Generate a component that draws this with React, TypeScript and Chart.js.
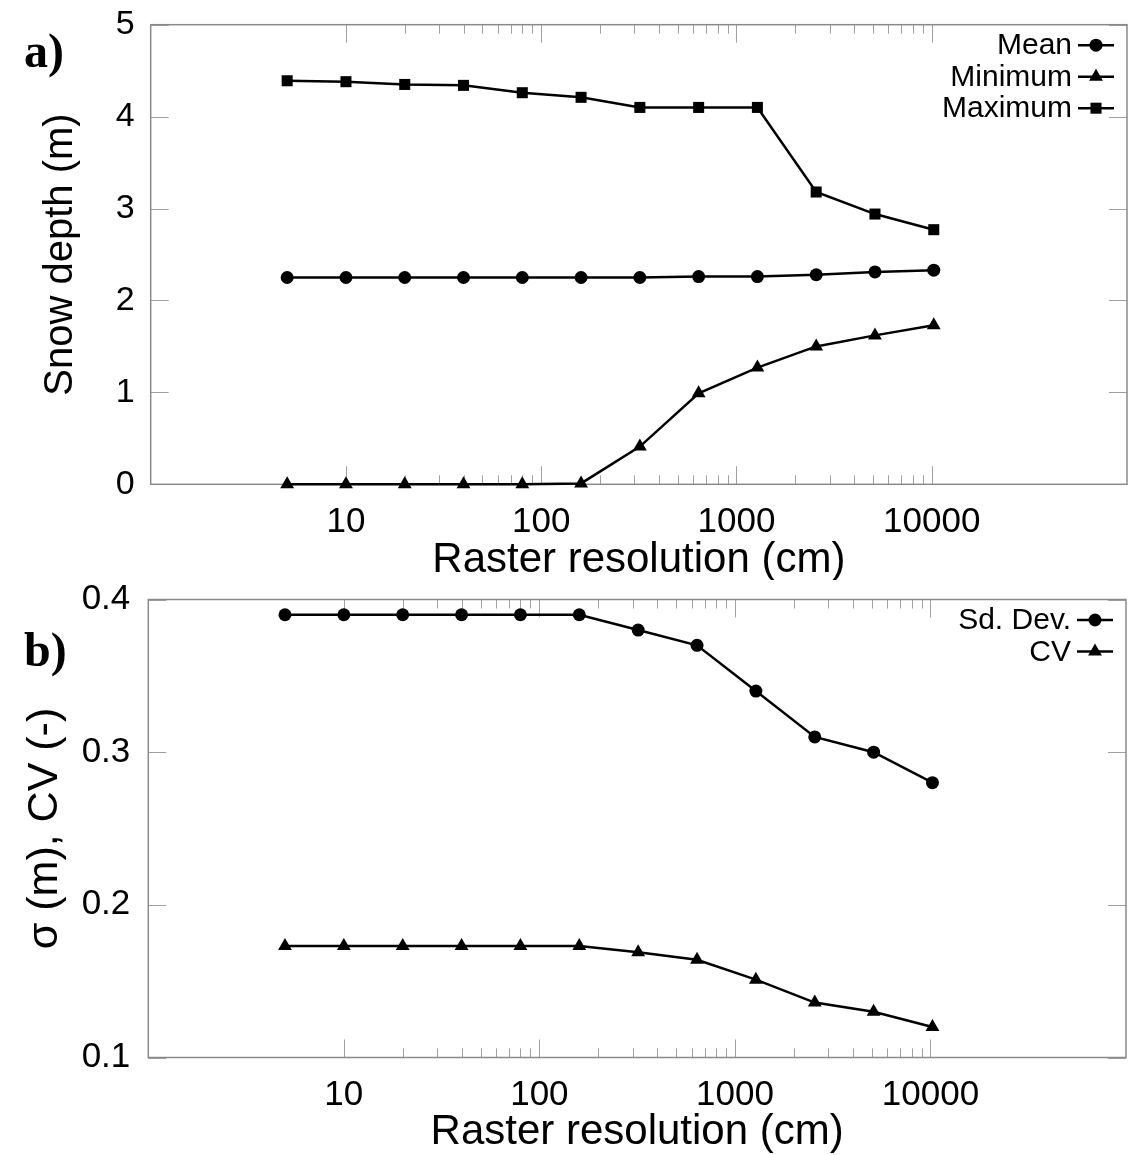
import React, { useEffect, useRef } from "react";
import { Chart, registerables } from "chart.js";
import { drawPoint } from "chart.js/helpers";

Chart.register(...registerables);

// ---------- data ----------
const resolutions = [5, 10, 20, 40, 80, 160, 320, 640, 1280, 2560, 5120, 10240];
const meanDepth = [2.25, 2.25, 2.25, 2.25, 2.25, 2.25, 2.25, 2.26, 2.26, 2.28, 2.31, 2.33];
const minDepth = [0, 0, 0, 0, 0, 0.01, 0.41, 0.99, 1.27, 1.5, 1.62, 1.73];
const maxDepth = [4.39, 4.38, 4.35, 4.34, 4.26, 4.21, 4.1, 4.1, 4.1, 3.18, 2.94, 2.77];
const sdDev = [0.39, 0.39, 0.39, 0.39, 0.39, 0.39, 0.38, 0.37, 0.34, 0.31, 0.3, 0.28];
const cvValues = [0.173, 0.173, 0.173, 0.173, 0.173, 0.173, 0.169, 0.164, 0.151, 0.136, 0.13, 0.12];

const xTickValues = [10, 100, 1000, 10000];
const depthTicks = [0, 1, 2, 3, 4, 5];
const sigmaTicks = [0.1, 0.2, 0.3, 0.4];

const xTitle = "Raster resolution (cm)";
const depthTitle = "Snow depth (m)";
const sigmaTitle = "σ (m), CV (-)";

// minor tick positions (2..9 within each labelled decade)
const xMinorTicks: number[] = [];
for (const d of [10, 100, 1000]) {
  for (let k = 2; k <= 9; k++) xMinorTicks.push(d * k);
}

const SANS = '"Liberation Sans", Arial, sans-serif';

const decorPlugin = {
  id: "decor",
  beforeDatasetsDraw(chart: any, _args: any, opts: any) {
    const { ctx, chartArea } = chart;
    const { left, right, top, bottom } = chartArea;
    const xs = chart.scales.x;
    const ys = chart.scales.y;
    ctx.save();
    ctx.strokeStyle = "#a0a0a0";
    ctx.lineWidth = 1;
    ctx.beginPath();
    for (const v of xTickValues) {
      const px = Math.round(xs.getPixelForValue(v)) + 0.5;
      ctx.moveTo(px, bottom);
      ctx.lineTo(px, bottom - 18);
      ctx.moveTo(px, top);
      ctx.lineTo(px, top + 18);
    }
    for (const v of xMinorTicks) {
      const px = Math.round(xs.getPixelForValue(v)) + 0.5;
      ctx.moveTo(px, bottom);
      ctx.lineTo(px, bottom - 9);
      ctx.moveTo(px, top);
      ctx.lineTo(px, top + 9);
    }
    for (const v of opts.yTicks) {
      const py = Math.round(ys.getPixelForValue(v)) + 0.5;
      ctx.moveTo(left, py);
      ctx.lineTo(left + 18, py);
      ctx.moveTo(right, py);
      ctx.lineTo(right - 18, py);
    }
    ctx.stroke();
    ctx.strokeStyle = "#8a8a8a";
    ctx.lineWidth = 1.5;
    ctx.strokeRect(left, top, right - left, bottom - top);
    ctx.restore();
  },
  afterDraw(chart: any, _args: any, opts: any) {
    const { ctx, chartArea } = chart;
    const { right, top } = chartArea;
    ctx.save();
    // legend
    ctx.font = `30px ${SANS}`;
    ctx.textAlign = "right";
    ctx.textBaseline = "middle";
    chart.data.datasets.forEach((ds: any, i: number) => {
      const y = top + 20.5 + i * 31.5;
      ctx.fillStyle = "#000";
      ctx.fillText(ds.label, right - 55, y + 1);
      ctx.strokeStyle = "#000";
      ctx.lineWidth = 2.5;
      ctx.beginPath();
      ctx.moveTo(right - 49, y);
      ctx.lineTo(right - 13, y);
      ctx.stroke();
      ctx.fillStyle = "#000";
      drawPoint(ctx, { pointStyle: ds.pointStyle, radius: ds.pointRadius, rotation: 0, borderWidth: 0 }, right - 31, y);
    });
    // panel label
    ctx.font = `bold 48px "Liberation Serif", "Times New Roman", serif`;
    ctx.textAlign = "left";
    ctx.textBaseline = "alphabetic";
    ctx.fillStyle = "#000";
    ctx.fillText(opts.panel, 24, opts.panelBaseline);
    ctx.restore();
  },
};

function makeDataset(label: string, values: number[], style: string, radius: number) {
  return {
    label,
    data: resolutions.map((x, i) => ({ x, y: values[i] })),
    borderColor: "#000",
    backgroundColor: "#000",
    borderWidth: 2.5,
    pointStyle: style,
    pointRadius: radius,
    pointHoverRadius: radius,
    pointBackgroundColor: "#000",
    pointBorderColor: "#000",
    pointBorderWidth: 0,
    tension: 0,
    clip: false,
  };
}

function zeroPadding(s: any) {
  s.paddingTop = 0;
  s.paddingBottom = 0;
  s.paddingLeft = 0;
  s.paddingRight = 0;
}

function buildConfig(p: {
  datasets: any[];
  yMin: number;
  yMax: number;
  yTicks: number[];
  yTitle: string;
  yTitleSize: number;
  yTickSize: number;
  yWidth: number;
  yTitlePad: number;
  yTickPad: number;
  xHeight: number;
  xTitlePad: number;
  xTickPad: number;
  padTop: number;
  padRight: number;
  panel: string;
  panelBaseline: number;
  decimals: number;
}) {
  return {
    type: "line" as const,
    data: { datasets: p.datasets },
    plugins: [decorPlugin],
    options: {
      responsive: false,
      animation: false as const,
      events: [],
      layout: { autoPadding: false, padding: { left: 0, top: p.padTop, right: p.padRight, bottom: 0 } },
      plugins: {
        legend: { display: false },
        tooltip: { enabled: false },
        decor: { yTicks: p.yTicks, panel: p.panel, panelBaseline: p.panelBaseline },
      },
      scales: {
        x: {
          type: "logarithmic" as const,
          min: 1,
          max: 100000,
          afterBuildTicks: (s: any) => {
            s.ticks = xTickValues.map((v) => ({ value: v }));
          },
          afterFit: (s: any) => {
            s.height = p.xHeight;
            zeroPadding(s);
          },
          grid: { display: false, drawTicks: false },
          border: { display: false },
          ticks: {
            autoSkip: false,
            maxRotation: 0,
            minRotation: 0,
            padding: p.xTickPad,
            color: "#000",
            font: { family: SANS, size: 35 },
            callback: (v: any) => String(v),
          },
          title: {
            display: true,
            text: xTitle,
            color: "#000",
            font: { family: SANS, size: 42, lineHeight: 1.2 },
            padding: { top: 0, bottom: p.xTitlePad },
          },
        },
        y: {
          type: "linear" as const,
          min: p.yMin,
          max: p.yMax,
          afterBuildTicks: (s: any) => {
            s.ticks = p.yTicks.map((v) => ({ value: v }));
          },
          afterFit: (s: any) => {
            s.width = p.yWidth;
            zeroPadding(s);
          },
          grid: { display: false, drawTicks: false },
          border: { display: false },
          ticks: {
            padding: p.yTickPad,
            color: "#000",
            font: { family: SANS, size: p.yTickSize },
            callback: (v: any) => Number(v).toFixed(p.decimals),
          },
          title: {
            display: true,
            text: p.yTitle,
            color: "#000",
            font: { family: SANS, size: p.yTitleSize, lineHeight: 1.2 },
            padding: { top: p.yTitlePad, bottom: 0 },
          },
        },
      },
    },
  };
}

function Panel({ config, width, height, top }: { config: any; width: number; height: number; top: number }) {
  const ref = useRef<HTMLCanvasElement | null>(null);
  useEffect(() => {
    if (!ref.current) return;
    const chart = new Chart(ref.current, config);
    return () => chart.destroy();
  }, [config]);
  return (
    <canvas
      ref={ref}
      width={width}
      height={height}
      style={{ position: "absolute", left: 0, top, width, height, display: "block" }}
    />
  );
}

const configA = buildConfig({
  datasets: [
    makeDataset("Mean", meanDepth, "circle", 6.5),
    makeDataset("Minimum", minDepth, "triangle", 8),
    makeDataset("Maximum", maxDepth, "rect", 7.8),
  ],
  yMin: 0,
  yMax: 5,
  yTicks: depthTicks,
  yTitle: depthTitle,
  yTitleSize: 40,
  yTickSize: 34,
  yWidth: 150.7,
  yTitlePad: 36.5,
  yTickPad: 16,
  xHeight: 95.7,
  xTitlePad: -6,
  xTickPad: 17,
  padTop: 24.7,
  padRight: 1,
  panel: "a)",
  panelBaseline: 67,
  decimals: 0,
});

const configB = buildConfig({
  datasets: [
    makeDataset("Sd. Dev.", sdDev, "circle", 6.5),
    makeDataset("CV", cvValues, "triangle", 8),
  ],
  yMin: 0.1,
  yMax: 0.4,
  yTicks: sigmaTicks,
  yTitle: sigmaTitle,
  yTitleSize: 43,
  yTickSize: 35,
  yWidth: 148.3,
  yTitlePad: 19,
  yTickPad: 18,
  xHeight: 97.5,
  xTitlePad: -3,
  xTickPad: 17,
  padTop: 19.5,
  padRight: 2,
  panel: "b)",
  panelBaseline: 86,
  decimals: 1,
});

export default function App() {
  return (
    <div style={{ position: "absolute", left: 0, top: 0, width: 1128, height: 1155, background: "#fff" }}>
      <Panel config={configA} width={1128} height={580} top={0} />
      <Panel config={configB} width={1128} height={575} top={580} />
    </div>
  );
}
